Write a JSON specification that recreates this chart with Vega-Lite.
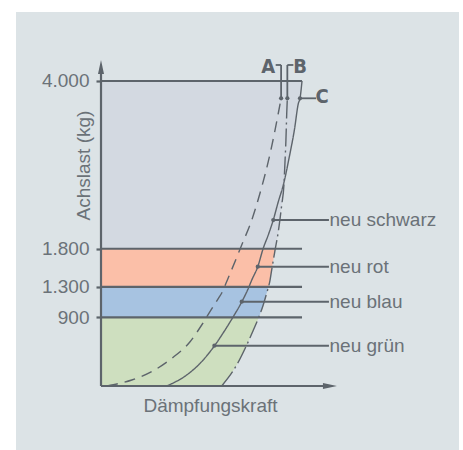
{
  "$schema": "https://vega.github.io/schema/vega-lite/v6.json",
  "width": 443,
  "height": 438,
  "autosize": {"type": "none"},
  "padding": {"left": 16, "top": 12, "right": 4, "bottom": 0},
  "background": "#ffffff",
  "config": {"view": {"stroke": null, "fill": "#dce3e6"}, "font": "Liberation Sans"},
  "datasets": {
    "bands": [
      {"band": "neu grün", "y": 0, "x": 60.05},
      {"band": "neu grün", "y": 275, "x": 67.5},
      {"band": "neu grün", "y": 538, "x": 72.5},
      {"band": "neu grün", "y": 734, "x": 75.8},
      {"band": "neu grün", "y": 900, "x": 78.5},
      {"band": "neu blau", "y": 900, "x": 78.5},
      {"band": "neu blau", "y": 1062, "x": 80.7},
      {"band": "neu blau", "y": 1216, "x": 82.4},
      {"band": "neu blau", "y": 1300, "x": 83.3},
      {"band": "neu rot", "y": 1300, "x": 83.3},
      {"band": "neu rot", "y": 1390, "x": 84.1},
      {"band": "neu rot", "y": 1521, "x": 84.9},
      {"band": "neu rot", "y": 1784, "x": 86.6},
      {"band": "neu rot", "y": 1800, "x": 86.7},
      {"band": "neu schwarz", "y": 1800, "x": 86.7},
      {"band": "neu schwarz", "y": 2024, "x": 88.2},
      {"band": "neu schwarz", "y": 2374, "x": 89.9},
      {"band": "neu schwarz", "y": 2636, "x": 91.0},
      {"band": "neu schwarz", "y": 2800, "x": 92.0},
      {"band": "neu schwarz", "y": 3007, "x": 93.7},
      {"band": "neu schwarz", "y": 3357, "x": 96.2},
      {"band": "neu schwarz", "y": 3708, "x": 98.2},
      {"band": "neu schwarz", "y": 4000, "x": 100}
    ],
    "curves": [
      {"curve": "A", "x": 3, "y": 0},
      {"curve": "A", "x": 15.3, "y": 79},
      {"curve": "A", "x": 25.2, "y": 188},
      {"curve": "A", "x": 35.2, "y": 363},
      {"curve": "A", "x": 44.3, "y": 581},
      {"curve": "A", "x": 50.1, "y": 800},
      {"curve": "A", "x": 54.2, "y": 974},
      {"curve": "A", "x": 58.4, "y": 1150},
      {"curve": "A", "x": 60.0, "y": 1216},
      {"curve": "A", "x": 62.5, "y": 1368},
      {"curve": "A", "x": 70.0, "y": 1849},
      {"curve": "A", "x": 75.0, "y": 2177},
      {"curve": "A", "x": 80.0, "y": 2614},
      {"curve": "A", "x": 83.2, "y": 2942},
      {"curve": "A", "x": 86.1, "y": 3292},
      {"curve": "A", "x": 88.2, "y": 3577},
      {"curve": "A", "x": 89.6, "y": 3773},
      {"curve": "B", "x": 60.05, "y": 0},
      {"curve": "B", "x": 67.5, "y": 275},
      {"curve": "B", "x": 72.5, "y": 538},
      {"curve": "B", "x": 75.8, "y": 734},
      {"curve": "B", "x": 78.3, "y": 888},
      {"curve": "B", "x": 80.7, "y": 1062},
      {"curve": "B", "x": 82.4, "y": 1216},
      {"curve": "B", "x": 84.1, "y": 1390},
      {"curve": "B", "x": 84.9, "y": 1521},
      {"curve": "B", "x": 86.6, "y": 1784},
      {"curve": "B", "x": 88.2, "y": 2024},
      {"curve": "B", "x": 89.9, "y": 2374},
      {"curve": "B", "x": 91.0, "y": 2636},
      {"curve": "B", "x": 91.5, "y": 2921},
      {"curve": "B", "x": 92.0, "y": 3226},
      {"curve": "B", "x": 92.4, "y": 3577},
      {"curve": "B", "x": 92.7, "y": 3773},
      {"curve": "C", "x": 32.7, "y": 0},
      {"curve": "C", "x": 42.6, "y": 144},
      {"curve": "C", "x": 49.3, "y": 298},
      {"curve": "C", "x": 56.4, "y": 525},
      {"curve": "C", "x": 61.7, "y": 734},
      {"curve": "C", "x": 65.8, "y": 909},
      {"curve": "C", "x": 70.0, "y": 1102},
      {"curve": "C", "x": 73.3, "y": 1281},
      {"curve": "C", "x": 75.0, "y": 1390},
      {"curve": "C", "x": 78.0, "y": 1565},
      {"curve": "C", "x": 80.7, "y": 1806},
      {"curve": "C", "x": 83.2, "y": 1980},
      {"curve": "C", "x": 85.7, "y": 2177},
      {"curve": "C", "x": 88.2, "y": 2417},
      {"curve": "C", "x": 90.7, "y": 2636},
      {"curve": "C", "x": 93.7, "y": 3007},
      {"curve": "C", "x": 96.2, "y": 3357},
      {"curve": "C", "x": 98.2, "y": 3708},
      {"curve": "C", "x": 99.0, "y": 3773},
      {"curve": "C", "x": 100, "y": 4000}
    ],
    "rules": [
      {"kind": "band", "x": 0, "x2": 100, "y": 4000, "y2": 4000},
      {"kind": "band", "x": 0, "x2": 100, "y": 1800, "y2": 1800},
      {"kind": "band", "x": 0, "x2": 100, "y": 1300, "y2": 1300},
      {"kind": "band", "x": 0, "x2": 100, "y": 900, "y2": 900},
      {"kind": "band", "x": 0, "x2": 0, "y": 0, "y2": 4150},
      {"kind": "band", "x": 0, "x2": 112, "y": 0, "y2": 0},
      {"kind": "leader", "x": 85.7, "x2": 113.4, "y": 2177, "y2": 2177},
      {"kind": "leader", "x": 78.0, "x2": 113.4, "y": 1565, "y2": 1565},
      {"kind": "leader", "x": 70.0, "x2": 113.4, "y": 1106, "y2": 1106},
      {"kind": "leader", "x": 56.4, "x2": 113.4, "y": 529, "y2": 529},
      {"kind": "pointer", "x": 99.0, "x2": 107.0, "y": 3773, "y2": 3773},
      {"kind": "pointer", "x": 89.6, "x2": 89.6, "y": 3773, "y2": 4210},
      {"kind": "pointer", "x": 86.9, "x2": 89.6, "y": 4210, "y2": 4210},
      {"kind": "pointer", "x": 92.7, "x2": 92.7, "y": 3773, "y2": 4210},
      {"kind": "pointer", "x": 92.7, "x2": 95.7, "y": 4210, "y2": 4210}
    ],
    "arrows": [
      {"axis": "y", "x": 0, "y": 4184},
      {"axis": "x", "x": 113.9, "y": 0}
    ],
    "dots": [
      {"x": 89.6, "y": 3773},
      {"x": 92.7, "y": 3773},
      {"x": 99.0, "y": 3773},
      {"x": 85.7, "y": 2177},
      {"x": 78.0, "y": 1565},
      {"x": 70.0, "y": 1106},
      {"x": 56.4, "y": 529}
    ],
    "labels": [
      {"label": "neu schwarz", "x": 113.7, "y": 2177},
      {"label": "neu rot", "x": 113.7, "y": 1565},
      {"label": "neu blau", "x": 113.7, "y": 1106},
      {"label": "neu grün", "x": 113.7, "y": 529}
    ],
    "letters": [
      {"label": "A", "x": 83.2, "y": 4190},
      {"label": "B", "x": 99.0, "y": 4190},
      {"label": "C", "x": 110.0, "y": 3784}
    ]
  },
  "encoding": {
    "y": {"field": "y", "type": "quantitative", "scale": {"domain": [-839.3, 4904.9], "nice": false, "zero": false},
      "axis": {"values": [900, 1300, 1800, 4000], "labelExpr": "replace(format(datum.value, ','), ',', '.')", "offset": -85, "domain": false, "grid": false, "tickSize": 5, "tickWidth": 2.2, "tickColor": "#5d646b", "labelFontSize": 19, "labelColor": "#6b7278", "labelPadding": 7, "title": "Achslast (kg)", "titleFontSize": 19, "titleFontWeight": "normal", "titleColor": "#6b7278", "titleX": -18, "titleY": 153, "titleAngle": 270, "titleAlign": "center", "titleBaseline": "middle"}},
    "x": {"field": "x", "type": "quantitative", "stack": null, "scale": {"domain": [-42.29, 178.1], "nice": false, "zero": false},
      "axis": {"offset": -64, "domain": false, "ticks": false, "labels": false, "grid": false, "title": "Dämpfungskraft", "titleX": 194, "titleY": 19, "titleAlign": "center", "titleBaseline": "middle", "titleFontSize": 19, "titleFontWeight": "normal", "titleColor": "#6b7278"}}
  },
  "layer": [
    {
      "data": {"name": "bands"},
      "mark": {"type": "area", "orient": "horizontal", "opacity": 1, "interpolate": "monotone"},
      "encoding": {
        "x2": {"datum": 0},
        "color": {"field": "band", "type": "nominal", "legend": null,
          "scale": {"domain": ["neu grün", "neu blau", "neu rot", "neu schwarz"], "range": ["#cedfbf", "#a7c3e1", "#fbbfa8", "#d3d9e1"]}}
      }
    },
    {
      "data": {"name": "rules"},
      "mark": {"type": "rule", "color": "#5d646b"},
      "encoding": {
        "x2": {"field": "x2"},
        "y2": {"field": "y2"},
        "strokeWidth": {"field": "kind", "type": "nominal", "legend": null, "scale": {"domain": ["band", "leader", "pointer"], "range": [2.2, 1.8, 1.4]}}
      }
    },
    {
      "data": {"name": "curves"},
      "mark": {"type": "line", "color": "#5d646b", "strokeWidth": 1.4, "interpolate": "monotone"},
      "encoding": {
        "detail": {"field": "curve", "type": "nominal"},
        "strokeDash": {"field": "curve", "type": "nominal", "legend": null, "scale": {"domain": ["A", "B", "C"], "range": [[11, 7], [18, 4, 2, 4], [1, 0]]}},
        "order": {"field": "y", "type": "quantitative"}
      }
    },
    {
      "data": {"name": "arrows"},
      "mark": {"type": "point", "filled": true, "color": "#5d646b", "opacity": 1, "size": 196},
      "encoding": {
        "shape": {"field": "axis", "type": "nominal", "legend": null, "scale": {"domain": ["y", "x"], "range": ["M0,-1L0.43,1L-0.43,1Z", "M1,0L-1,-0.43L-1,0.43Z"]}}
      }
    },
    {
      "data": {"name": "dots"},
      "mark": {"type": "circle", "color": "#5d646b", "opacity": 1, "size": 18}
    },
    {
      "data": {"name": "labels"},
      "mark": {"type": "text", "align": "left", "baseline": "middle", "fontSize": 19, "color": "#6b7278", "font": "Liberation Sans"},
      "encoding": {"text": {"field": "label"}}
    },
    {
      "data": {"name": "letters"},
      "mark": {"type": "text", "align": "center", "baseline": "middle", "fontSize": 20, "fontWeight": "bold", "color": "#5d646b", "font": "Liberation Sans Narrow, DejaVu Sans Condensed, sans-serif"},
      "encoding": {"text": {"field": "label"}}
    }
  ]
}
